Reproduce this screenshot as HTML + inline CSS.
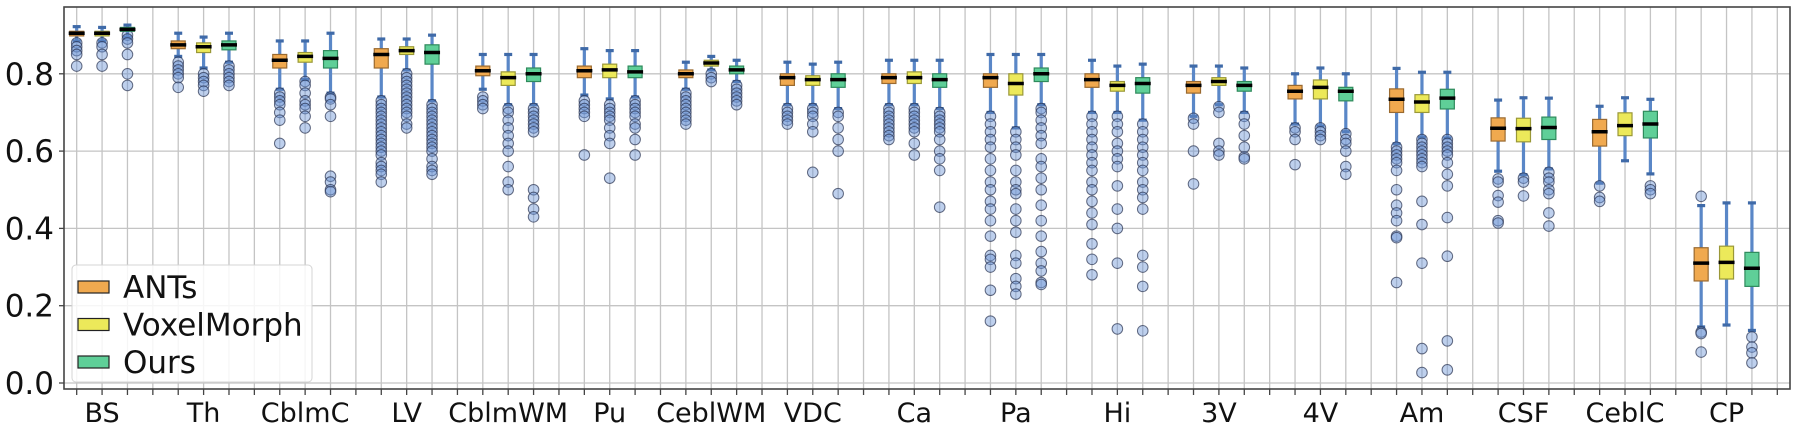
<!DOCTYPE html>
<html><head><meta charset="utf-8"><style>
html,body{margin:0;padding:0;background:#fff;}
svg{display:block;font-family:"DejaVu Sans","Liberation Sans",sans-serif;}
</style></head><body>
<svg id="chart" width="1795" height="429" viewBox="0 0 1795 429"></svg>
<script>
const categories=["BS","Th","CblmC","LV","CblmWM","Pu","CeblWM","VDC","Ca","Pa","Hi","3V","4V","Am","CSF","CeblC","CP"];
const methods=["ANTs","VoxelMorph","Ours"];
const yTicks=[0.0,0.2,0.4,0.6,0.8];
const yTickLabels=["0.0","0.2","0.4","0.6","0.8"];
// per category: [ANTs, VoxelMorph, Ours], each [lo, q1, med, q3, hi]
const stats=[
[[.885,.898,.905,.91,.922],[.885,.898,.905,.91,.92],[.895,.91,.915,.92,.926]],
[[.845,.865,.875,.885,.905],[.815,.855,.87,.88,.895],[.83,.862,.875,.885,.905]],
[[.76,.815,.835,.85,.885],[.785,.83,.845,.855,.885],[.75,.815,.84,.86,.905]],
[[.74,.815,.85,.865,.89],[.81,.85,.86,.87,.89],[.73,.825,.855,.875,.90]],
[[.76,.795,.808,.82,.85],[.72,.77,.79,.805,.85],[.72,.78,.80,.815,.85]],
[[.745,.79,.808,.82,.865],[.735,.79,.81,.825,.86],[.74,.79,.805,.82,.86]],
[[.76,.79,.80,.81,.83],[.81,.82,.828,.835,.845],[.78,.80,.81,.82,.835]],
[[.72,.77,.79,.80,.83],[.72,.77,.785,.795,.825],[.71,.765,.785,.80,.83]],
[[.72,.775,.79,.80,.835],[.72,.775,.79,.805,.835],[.71,.765,.785,.80,.835]],
[[.70,.765,.79,.80,.85],[.66,.745,.775,.80,.85],[.72,.78,.80,.815,.85]],
[[.70,.765,.785,.80,.835],[.70,.755,.77,.78,.82],[.68,.75,.775,.79,.825]],
[[.69,.75,.77,.78,.82],[.72,.77,.78,.79,.82],[.70,.755,.77,.78,.815]],
[[.67,.735,.755,.77,.80],[.665,.735,.765,.784,.815],[.65,.73,.755,.765,.80]],
[[.619,.70,.734,.761,.814],[.636,.70,.727,.746,.804],[.634,.709,.737,.76,.804]],
[[.548,.626,.659,.686,.732],[.539,.624,.658,.685,.738],[.554,.63,.661,.688,.737]],
[[.517,.613,.65,.682,.716],[.575,.64,.666,.699,.738],[.541,.634,.67,.703,.734]],
[[.145,.264,.31,.35,.459],[.15,.269,.312,.354,.466],[.136,.25,.297,.338,.466]]
];
const outliers=[
[[.88,.87,.86,.85,.82],[.88,.87,.85,.82],[.90,.89,.88,.85,.80,.77]],
[[.83,.82,.81,.80,.79,.765],[.80,.79,.78,.77,.755],[.82,.81,.80,.79,.78,.77]],
[[.75,.74,.73,.72,.70,.68,.62],[.78,.77,.75,.73,.72,.71,.69,.66],[.74,.735,.72,.69,.535,.52,.50,.495]],
[[.73,.72,.71,.70,.69,.68,.67,.66,.65,.64,.63,.62,.61,.60,.59,.57,.56,.55,.54,.52],[.80,.79,.78,.77,.76,.75,.74,.73,.72,.71,.70,.69,.67,.66],[.72,.71,.70,.69,.68,.67,.66,.65,.64,.63,.62,.61,.60,.58,.56,.55,.54]],
[[.74,.73,.72,.71],[.71,.70,.68,.66,.64,.62,.60,.56,.52,.50],[.71,.70,.69,.68,.67,.66,.65,.50,.48,.45,.43]],
[[.73,.72,.71,.70,.69,.59],[.72,.71,.70,.69,.68,.66,.64,.62,.53],[.73,.72,.71,.70,.69,.67,.66,.63,.59]],
[[.75,.74,.73,.72,.71,.70,.69,.68,.67],[.80,.79,.78],[.77,.76,.75,.74,.73,.72]],
[[.71,.70,.69,.68,.67],[.71,.70,.69,.67,.65,.545],[.70,.69,.66,.63,.60,.49]],
[[.71,.70,.69,.68,.67,.66,.65,.64,.63],[.71,.70,.69,.68,.67,.66,.65,.62,.59],[.70,.69,.68,.67,.66,.65,.63,.60,.58,.55,.455]],
[[.69,.67,.65,.63,.61,.58,.55,.52,.50,.47,.45,.42,.38,.33,.32,.30,.24,.16],[.65,.63,.61,.59,.55,.52,.50,.49,.45,.42,.39,.33,.31,.27,.25,.23],[.71,.70,.68,.66,.64,.62,.58,.56,.53,.50,.46,.42,.38,.34,.31,.29,.26,.255]],
[[.69,.67,.65,.63,.61,.59,.57,.55,.52,.50,.47,.44,.41,.36,.32,.28],[.69,.67,.65,.62,.60,.58,.56,.51,.45,.40,.31,.14],[.67,.65,.63,.61,.59,.57,.55,.52,.50,.48,.45,.33,.30,.25,.135]],
[[.685,.67,.60,.515],[.715,.70,.62,.60,.59],[.69,.67,.64,.61,.585,.58]],
[[.66,.65,.63,.565],[.66,.65,.64,.63],[.645,.63,.62,.60,.56,.54]],
[[.61,.60,.59,.58,.57,.55,.50,.46,.44,.42,.38,.376,.26],[.63,.62,.61,.60,.59,.58,.57,.56,.47,.41,.31,.089,.027],[.63,.62,.61,.60,.59,.57,.54,.51,.428,.328,.109,.034]],
[[.528,.52,.485,.468,.42,.414],[.53,.52,.484],[.545,.53,.52,.50,.49,.44,.406]],
[[.51,.48,.47],[],[.51,.50,.49]],
[[.483,.132,.128,.08],[],[.119,.093,.078,.052]]
];
const fills=["#f0a94f","#ece95a","#5fcf98"];
const edges=["#9a6a30","#9a9838","#2f8a5c"];

const svg=document.getElementById('chart');
const NS="http://www.w3.org/2000/svg";
const L=64,R=1790,T=7,B=389;
const nSlots=categories.length*4;
const xS=p=>L+(p-0.5)*(R-L)/nSlots;
const yS=v=>383-v*386.5;
function mk(tag,attrs,parent){const e=document.createElementNS(NS,tag);for(const k in attrs)e.setAttribute(k,attrs[k]);(parent||svg).appendChild(e);return e;}

const grid=mk('g',{});


for(let i=1;i<=nSlots;i++){const x=xS(i);mk('line',{x1:x,x2:x,y1:T,y2:B,stroke:'#c4c4c4','stroke-width':1.3},grid);}
yTicks.forEach(v=>{mk('line',{x1:L,x2:R,y1:yS(v),y2:yS(v),stroke:'#c4c4c4','stroke-width':1.3},grid);});

categories.forEach((c,ci)=>{
  const g=mk('g',{});
  
  
  for(let m=0;m<3;m++){
    const s=stats[ci][m];const x=xS(ci*4+m+1);
    const bw=14;
    mk('line',{x1:x,x2:x,y1:yS(s[0]),y2:yS(s[4]),stroke:'#5a87c7','stroke-width':3.2},g);
    mk('line',{x1:x-4,x2:x+4,y1:yS(s[0]),y2:yS(s[0]),stroke:'#3f6aa8','stroke-width':3.2},g);
    mk('line',{x1:x-4,x2:x+4,y1:yS(s[4]),y2:yS(s[4]),stroke:'#3f6aa8','stroke-width':3.2},g);
    outliers[ci][m].forEach(v=>{
      const o=mk('circle',{cx:x,cy:yS(v),r:5.3,fill:'rgba(110,150,215,0.45)',stroke:'rgba(40,50,80,0.7)','stroke-width':1},g);
      
      
    });
    const b=mk('rect',{x:x-bw/2,y:yS(s[3]),width:bw,height:yS(s[1])-yS(s[3]),fill:fills[m],stroke:edges[m],'stroke-width':1.2},g);
    
    
    mk('line',{x1:x-8,x2:x+8,y1:yS(s[2]),y2:yS(s[2]),stroke:'#000','stroke-width':3.5},g);
  }
});

const frame=mk('rect',{x:L,y:T,width:R-L,height:B-T,fill:'none',stroke:'#444','stroke-width':1.6});


yTicks.forEach((v,i)=>{
  mk('line',{x1:L-5,x2:L,y1:yS(v),y2:yS(v),stroke:'#444','stroke-width':1.3});
  const t=mk('text',{x:54,y:yS(v)+11,'text-anchor':'end','font-size':31,fill:'#111'});
  t.textContent=yTickLabels[i];
  
  
});
for(let i=1;i<=nSlots;i++){const x=xS(i);mk('line',{x1:x,x2:x,y1:B,y2:B+6,stroke:'#444','stroke-width':1.3});}
categories.forEach((c,ci)=>{
  const t=mk('text',{x:xS(ci*4+2),y:422,'text-anchor':'middle','font-size':27,fill:'#111'});
  t.textContent=c;
  
  
});
const lg=mk('g',{});


mk('rect',{x:72,y:265,width:240,height:117,rx:4,fill:'rgba(255,255,255,0.85)',stroke:'#d4d4d4','stroke-width':1},lg);
methods.forEach((m,i)=>{
  const cy=287+i*37.5;
  const e=mk('g',{},lg);
  
  
  mk('rect',{x:78,y:cy-6,width:31,height:12,fill:fills[i],stroke:'#222','stroke-width':1.2},e);
  const t=mk('text',{x:123,y:cy+11,'font-size':31,fill:'#111'},e);
  t.textContent=m;
});
</script>
</body></html>
